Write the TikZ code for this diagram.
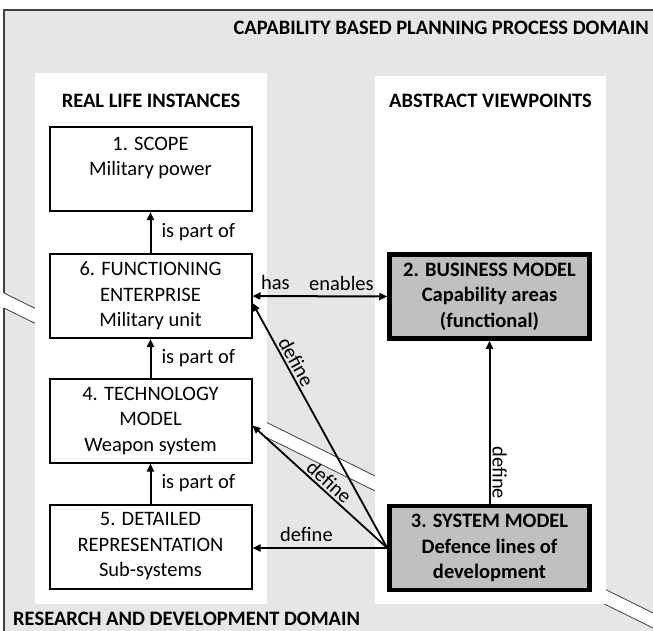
\documentclass[tikz,border=0pt]{standalone}
\usepackage{fontspec}
\setmainfont{Carlito}
\usetikzlibrary{arrows.meta,calc}
\definecolor{bggray}{HTML}{E6E6E6}
\definecolor{boxgray}{HTML}{C0C0C0}
\definecolor{edgegray}{HTML}{404040}
\begin{document}
\begin{tikzpicture}[x=1pt,y=-1pt,
  txt/.style={font=\fontsize{20.5}{25.5}\selectfont},
  ttl/.style={font=\fontsize{20.5}{25.5}\selectfont\bfseries, inner sep=0pt},
  inst/.style={draw=black, line width=2pt, fill=white, minimum width=202pt, minimum height=84pt, align=center, inner sep=0pt, txt},
  view/.style={draw=black, line width=4.5pt, fill=boxgray, minimum width=200pt, minimum height=84pt, align=center, inner sep=0pt, ttl},
  tip/.style={-{Triangle[length=8pt,width=7pt]}},
  arr/.style={line width=2pt, tip},
  defl/.style={line width=1.8pt, tip},
  lbl/.style={txt, inner sep=2pt},
  panel/.style={fill=white},
  band/.style={draw=edgegray, line width=0.8pt},
]
\useasboundingbox (0,0) rectangle (653,630);
\begin{scope}
\clip (0,0) rectangle (653,630);
% domain background
\fill[bggray] (4,10) rectangle (660,640);
\draw[edgegray, line width=1.5pt] (4,640) -- (4,10) -- (660,10);
% white break band
\fill[white] (-5,288.6) -- (660,616.4) -- (660,631.4) -- (-5,303.6) -- cycle;
\draw[band] (4,293) -- (660,616.4);
\draw[band] (4,308) -- (660,631.4);
\end{scope}
% panels
\fill[panel] (35,73) rectangle (267,604);
\fill[panel] (375,76) rectangle (606,604);
% titles
\node[ttl, anchor=east] (tcap) at (649,28) {CAPABILITY BASED PLANNING PROCESS DOMAIN};
\node[ttl] (treal) at (151,101) {REAL LIFE INSTANCES};
\node[ttl] (tabs) at (490.5,101) {ABSTRACT VIEWPOINTS};
\node[ttl, anchor=west] (trd) at (13,619) {RESEARCH AND DEVELOPMENT DOMAIN};
% boxes
\node[inst] (b1) at (150.5,169) {1. SCOPE\\Military power\\\mbox{}};
\node[inst] (b6) at (150.5,296) {6. FUNCTIONING\\ENTERPRISE\\Military unit};
\node[inst] (b4) at (150.5,420.5) {4. TECHNOLOGY\\MODEL\\Weapon system};
\node[inst] (b5) at (150.5,546.5) {5. DETAILED\\REPRESENTATION\\Sub-systems};
\node[view] (b2) at (489.5,296.5) {2. BUSINESS MODEL\\Capability areas\\(functional)};
\node[view] (b3) at (489.5,548) {3. SYSTEM MODEL\\Defence lines of\\development};
% connectors
\draw[arr] (b6.north) -- node[lbl, right=8pt]{is part of} (b1.south);
\draw[arr] (b4.north) -- node[lbl, right=8pt]{is part of} (b6.south);
\draw[arr] (b5.north) -- node[lbl, right=8pt]{is part of} (b4.south);
\draw[line width=2pt, {Triangle[length=8pt,width=7pt]}-{Triangle[length=8pt,width=7pt]}] (b6.east) -- node[lbl, above=3pt, pos=0.17]{has} node[lbl, above=3pt, pos=0.66]{enables} (b2.west);
\draw[defl] (b3.west) -- node[lbl, sloped, above, pos=0.74]{define} ($(b6.east)+(0,7)$);
\draw[defl] (b3.west) -- node[lbl, sloped, above, pos=0.48]{define} ($(b4.east)+(0,5)$);
\draw[arr] (b3.west) -- node[lbl, above=3pt, pos=0.6]{define} (b3.west -| b5.east);
\draw[arr] (b3.north) -- node[lbl, pos=0.19, rotate=-90, anchor=south]{define} (b2.south);
\end{tikzpicture}
\end{document}
